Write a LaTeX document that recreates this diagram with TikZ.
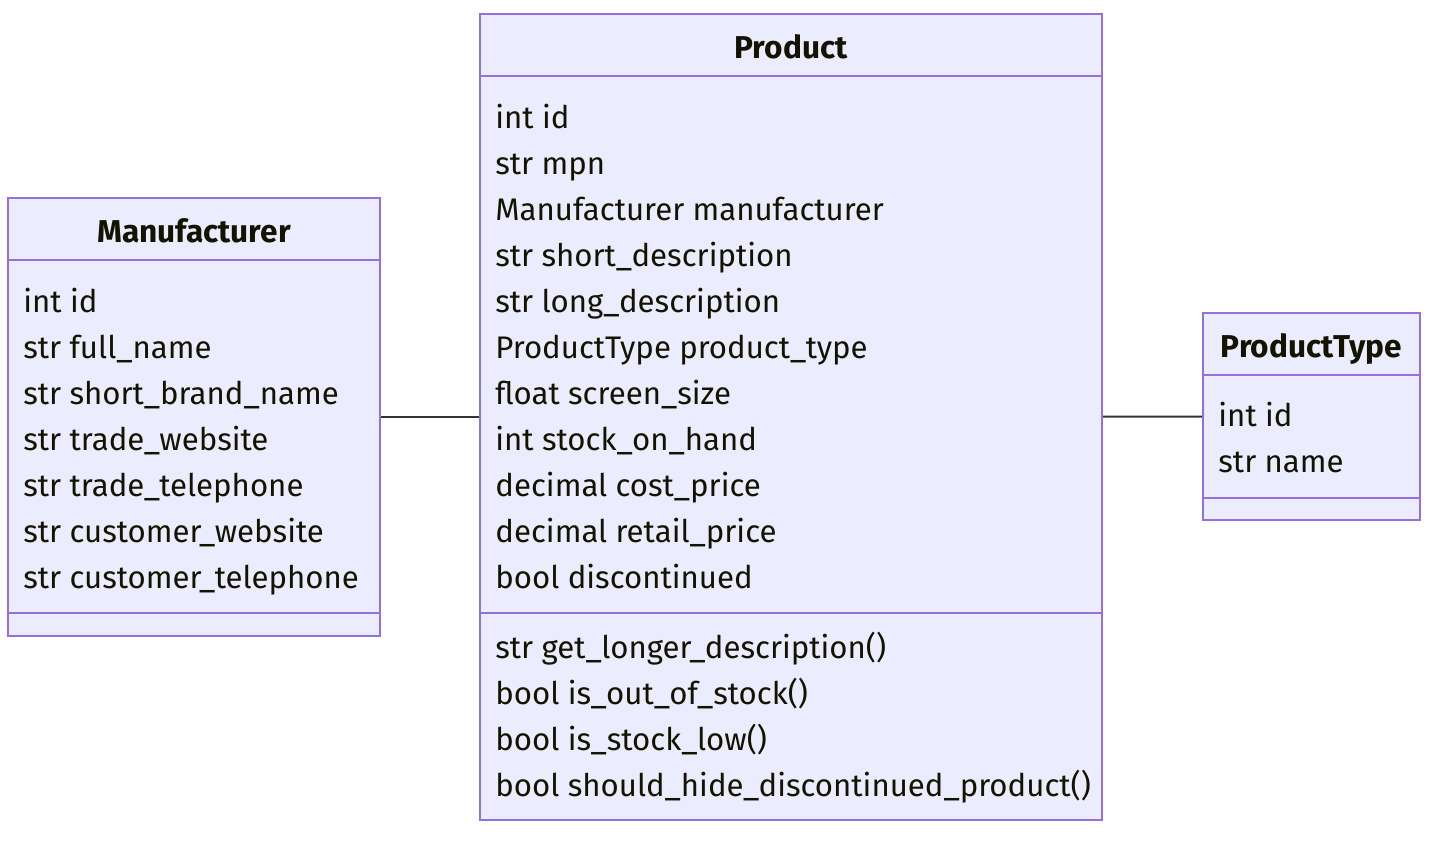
\documentclass[tikz,border=0pt]{standalone}
\usepackage{fontspec}
\setmainfont{Fira Sans}
\usepackage{xcolor}
\usetikzlibrary{positioning}
\definecolor{classfill}{HTML}{ECECFF}
\definecolor{classline}{HTML}{9370DB}
\definecolor{classtext}{HTML}{131300}
\definecolor{relline}{HTML}{333333}

\begin{document}
\begin{tikzpicture}[x=0.5pt,y=-0.5pt,
		box/.style={draw=classline,fill=classfill,line width=1pt,inner sep=0pt},
		sep/.style={draw=classline,line width=1pt},
		title/.style={font=\fontsize{15.8}{18}\selectfont\bfseries,text=classtext,inner sep=0pt,text height=1em,text depth=0pt},
		attr/.style={font=\fontsize{15.6}{18}\selectfont,text=classtext,anchor=west,inner sep=0pt,text height=1em,text depth=0pt},
		rel/.style={draw=relline,line width=1pt}
		]
		\useasboundingbox (0,0) rectangle (1438,842);

		% Manufacturer
		\node[box,minimum width=186pt,minimum height=219pt] (mfr) at (194,417) {};
		\draw[sep] (mfr.west |- 0,260) -- (mfr.east |- 0,260);
		\draw[sep] (mfr.west |- 0,613) -- (mfr.east |- 0,613);
		\node[title] (mfrtitle) at (194,232) {Manufacturer};
		\foreach \t [count=\i] in {int id,str full\_name,str short\_brand\_name,str trade\_website,
			str trade\_telephone,str customer\_website,str customer\_telephone}
		\node[attr] (mfra\i) at (23,{302+46*(\i-1)}) {\t};

		% Product
		\node[box,minimum width=311pt,minimum height=403pt] (prod) at (791,417) {};
		\draw[sep] (prod.west |- 0,76) -- (prod.east |- 0,76);
		\draw[sep] (prod.west |- 0,613) -- (prod.east |- 0,613);
		\node[title] (prodtitle) at (791,48) {Product};
		\foreach \t [count=\i] in {int id,str mpn,Manufacturer manufacturer,str short\_description,
			str long\_description,ProductType product\_type,float screen\_size,int stock\_on\_hand,
			decimal cost\_price,decimal retail\_price,bool discontinued}
		\node[attr] (proda\i) at (495,{118+46*(\i-1)}) {\t};
		\foreach \t [count=\i] in {str get\_longer\_description(),bool is\_out\_of\_stock(),
			bool is\_stock\_low(),bool should\_hide\_discontinued\_product()}
		\node[attr] (prodm\i) at (495,{648+46*(\i-1)}) {\t};

		% ProductType
		\node[box,minimum width=108.5pt,minimum height=103.5pt] (ptype) at (1311.5,416.5) {};
		\draw[sep] (ptype.west |- 0,375) -- (ptype.east |- 0,375);
		\draw[sep] (ptype.west |- 0,498) -- (ptype.east |- 0,498);
		\node[title] (ptypetitle) at (1311.5,347) {ProductType};
		\node[attr] (ptypea1) at (1218,416) {int id};
		\node[attr] (ptypea2) at (1218,462) {str name};

		% associations
		\draw[rel] (mfr) -- (prod);
		\draw[rel] (prod) -- (ptype);
	\end{tikzpicture}
\end{document}
